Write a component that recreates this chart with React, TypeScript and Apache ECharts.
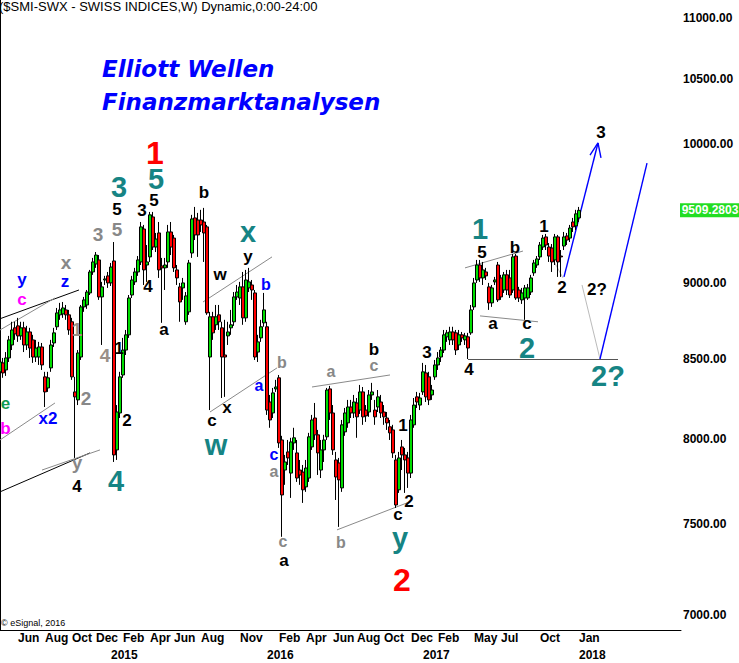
import React, { useEffect, useRef } from 'react';
import * as echarts from 'echarts';

// ---------- data (weekly candles, first week = Mon 21 Apr 2014) ----------
const START_UTC = Date.UTC(2014, 3, 21);
const WEEK_COUNT = 228;

const opens = [
  8415, 8472, 8427, 8504, 8588, 8700, 8713, 8647, 8700, 8588,
  8673, 8621, 8510, 8510, 8575, 8383, 8313, 8440, 8601, 8707,
  8786, 8792, 8819, 8786, 8740, 8288, 8238, 8510, 8839, 8852,
  8933, 9076, 9131, 9159, 8906, 9021, 9049, 9001, 9152, 7932,
  8157, 8395, 8555, 8654, 8919, 9008, 9076, 9145, 9376, 9124,
  9180, 9462, 9249, 9348, 9117, 9104, 9145, 9355, 9312, 9090,
  8974, 8967, 8740, 8806, 9207, 9455, 9440, 9440, 9426, 9391,
  8510, 8773, 8720, 8786, 8700, 8523, 8647, 8700, 8740, 8906,
  8899, 8974, 8766, 8967, 8987, 8933, 8542, 8634, 8733, 8707,
  8225, 8157, 8307, 8377, 7992, 7812, 7920, 7794, 7974, 7914,
  7812, 7800, 7713, 7765, 7950, 8126, 8023, 7812, 7932, 8011,
  8307, 8157, 7872, 7854, 7707, 8041, 8096, 8194, 8157, 8219,
  8175, 8288, 8175, 8163, 8269, 8175, 8194, 8225, 8163, 8126,
  8072, 8053, 7872, 7696, 7950, 7902, 7884, 7794, 8084, 8257,
  8206, 8288, 8408, 8383, 8269, 8383, 8459, 8510, 8555, 8641,
  8621, 8673, 8667, 8588, 8654, 8621, 8641, 8667, 8839, 9021,
  9124, 9035, 9076, 8974, 8866, 9008, 9124, 9035, 8953, 9056,
  9035, 8953, 9186, 8953, 8886, 8899, 8899, 8939, 9070, 9124,
  9180, 9249, 9320, 9249, 9242, 9159, 9320, 9186, 9256, 9327,
  9312, 9426, 9398, 9455,
];
const closes = [
  8478, 8408, 8504, 8621, 8686, 8660, 8647, 8700, 8588, 8673,
  8568, 8510, 8568, 8575, 8459, 8288, 8377, 8588, 8667, 8799,
  8819, 8832, 8786, 8686, 8383, 8257, 8536, 8839, 8886, 8939,
  9076, 9145, 9193, 8906, 8974, 9028, 9001, 9110, 7902, 8163,
  8383, 8555, 8654, 8899, 9021, 9076, 9159, 9391, 9090, 9145,
  9477, 9249, 9305, 9090, 9104, 9124, 9355, 9249, 9104, 9035,
  8872, 9001, 8913, 9138, 9448, 9334, 9334, 9405, 9348, 8799,
  8773, 8667, 8773, 8740, 8510, 8510, 8673, 8720, 8906, 8939,
  8974, 8766, 9021, 9008, 8953, 8510, 8608, 8707, 8819, 8175,
  8114, 8282, 8319, 7974, 7666, 7860, 7884, 7980, 8005, 7765,
  7783, 7696, 7824, 8011, 8114, 8023, 7914, 7932, 7992, 8300,
  8157, 7932, 7771, 7754, 8084, 8157, 8194, 8157, 8225, 8133,
  8288, 8133, 8139, 8269, 8288, 8133, 8257, 8157, 8133, 8096,
  8035, 7914, 7608, 7884, 7902, 7872, 7794, 8114, 8206, 8225,
  8250, 8415, 8257, 8238, 8300, 8459, 8504, 8555, 8654, 8667,
  8673, 8621, 8555, 8654, 8634, 8647, 8568, 8819, 9001, 9124,
  9035, 9090, 9049, 8866, 8967, 9021, 8886, 8906, 9056, 8953,
  8919, 9180, 8899, 8899, 8933, 8967, 8967, 9035, 9138, 9166,
  9263, 9312, 9263, 9186, 9145, 9320, 9145, 9180, 9320, 9298,
  9383, 9391, 9484, 9509.2803,
];
const lows = [
  8364, 8377, 8389, 8478, 8555, 8621, 8608, 8621, 8542, 8555,
  8504, 8472, 8478, 8459, 8427, 8194, 8288, 8415, 8575, 8686,
  8753, 8766, 8753, 8654, 8364, 7884, 8206, 8491, 8806, 8826,
  8919, 9056, 9104, 8886, 8588, 8987, 8967, 8980, 7860, 7872,
  8126, 8377, 8523, 8634, 8899, 8987, 9049, 9124, 8987, 9008,
  9145, 9228, 9214, 9035, 8733, 8953, 9104, 9193, 9076, 8987,
  8740, 8886, 8720, 8786, 9173, 9298, 9180, 9355, 9145, 8786,
  8175, 8621, 8686, 8686, 8250, 8257, 8588, 8654, 8713, 8886,
  8852, 8720, 8740, 8939, 8886, 8491, 8478, 8608, 8707, 8145,
  8066, 8126, 8288, 7944, 7427, 7725, 7842, 7649, 7932, 7742,
  7725, 7620, 7684, 7742, 7932, 7992, 7783, 7765, 7860, 7992,
  8114, 7902, 7637, 7483, 7684, 8017, 8066, 8126, 8126, 8005,
  8151, 8084, 8102, 8133, 8238, 8084, 8163, 8126, 8084, 8053,
  7992, 7884, 7591, 7678, 7812, 7678, 7707, 7765, 8066, 8188,
  8175, 8269, 8225, 8206, 8238, 8364, 8427, 8478, 8536, 8608,
  8588, 8588, 8523, 8555, 8608, 8588, 8497, 8654, 8819, 9001,
  9008, 8987, 9021, 8819, 8839, 8987, 8872, 8886, 8933, 8919,
  8899, 8933, 8886, 8872, 8859, 8753, 8886, 8919, 9049, 9104,
  9159, 9228, 9228, 9145, 9076, 9124, 9042, 9042, 9228, 9263,
  9284, 9355, 9369, 9426,
];
const highs = [
  8523, 8504, 8542, 8647, 8740, 8740, 8766, 8740, 8740, 8713,
  8700, 8654, 8621, 8608, 8601, 8415, 8415, 8621, 8700, 8832,
  8866, 8872, 8852, 8819, 8766, 8383, 8555, 8852, 8906, 8953,
  9090, 9173, 9214, 9193, 9008, 9049, 9076, 9138, 9284, 8206,
  8415, 8634, 8686, 8919, 9049, 9104, 9186, 9426, 9405, 9263,
  9498, 9498, 9348, 9426, 9173, 9173, 9405, 9426, 9334, 9124,
  9001, 9035, 8939, 9159, 9477, 9534, 9491, 9513, 9527, 9405,
  8806, 8806, 8852, 8852, 8740, 8753, 8740, 8819, 8939, 8987,
  9008, 9076, 9090, 9104, 9021, 8953, 8654, 8753, 8933, 8740,
  8269, 8313, 8364, 8395, 8017, 7902, 7992, 8005, 8066, 7992,
  7872, 7842, 7872, 8035, 8145, 8219, 8053, 7992, 8023, 8313,
  8326, 8206, 7920, 7884, 8114, 8188, 8238, 8238, 8269, 8250,
  8332, 8319, 8206, 8300, 8345, 8238, 8300, 8269, 8206, 8163,
  8114, 8084, 7902, 7920, 7992, 7944, 7920, 8145, 8250, 8288,
  8282, 8472, 8459, 8415, 8332, 8491, 8542, 8575, 8686, 8686,
  8707, 8707, 8686, 8686, 8673, 8667, 8667, 8852, 9035, 9159,
  9159, 9145, 9104, 9001, 8987, 9042, 9145, 9056, 9076, 9090,
  9090, 9200, 9200, 8974, 8967, 8987, 8994, 9056, 9159, 9186,
  9284, 9334, 9341, 9277, 9270, 9341, 9334, 9228, 9355, 9348,
  9405, 9455, 9513, 9534,
];

// axis ticks / labels
const priceTicks = [7000, 7500, 8000, 8500, 9000, 10000, 10500, 11000];
const PRICE_MIN = 6921;
const PRICE_MAX = 11151;
const monthTicks = [
  '2014-06', '2014-08', '2014-10', '2014-12', '2015-02', '2015-04', '2015-06', '2015-08',
  '2015-11', '2016-02', '2016-04', '2016-06', '2016-08', '2016-10', '2016-12', '2017-02',
  '2017-05', '2017-07', '2017-10', '2018-01',
];
const yearTicks = ['2015-01', '2016-01', '2017-01', '2018-01'];
const MONTHS = ['Jan', 'Feb', 'Mar', 'Apr', 'May', 'Jun', 'Jul', 'Aug', 'Sep', 'Oct', 'Nov', 'Dec'];

// wave labels: [text, week position, price, style]
const waveLabels: [string, number, number, string][] = [
  ['1', 51.67, 9931, 'red'], ['2', 134, 7188, 'red'],
  ['5', 52, 9735, 'teal'], ['3', 39.67, 9679, 'teal'], ['x', 82.67, 9355, 'teal'],
  ['w', 72, 7962, 'teal'], ['4', 38.67, 7748, 'teal'], ['1', 160, 9376, 'teal'],
  ['2', 175.67, 8570, 'teal'], ['2?', 202.67, 8389, 'teal'], ['y', 133.33, 7420, 'teal'],
  ['5', 39, 9513, 'black'], ['3', 47.33, 9506, 'black'], ['5', 51.33, 9584, 'black'],
  ['b', 68, 9642, 'black'], ['4', 49.33, 8980, 'black'], ['a', 54.67, 8690, 'black'],
  ['w', 73.33, 9059, 'black'], ['y', 82.67, 9186, 'black'], ['1', 39.67, 8568, 'black'],
  ['2', 42.33, 8108, 'black'], ['4', 25.67, 7713, 'black'], ['c', 70.67, 8112, 'black'],
  ['x', 75.67, 8191, 'black'], ['a', 94.67, 7295, 'black'], ['b', 124.67, 8560, 'black'],
  ['3', 142.33, 8542, 'black'], ['1', 134.33, 8078, 'black'], ['2', 136.33, 7631, 'black'],
  ['c', 132.67, 7555, 'black'], ['4', 156.33, 8427, 'black'], ['5', 160.67, 9214, 'black'],
  ['b', 171.67, 9249, 'black'], ['a', 164.33, 8730, 'black'], ['c', 175.67, 8730, 'black'],
  ['1', 181.33, 9391, 'black'], ['2', 187.33, 8967, 'black'], ['2?', 199, 8953, 'black'],
  ['3', 200.33, 10083, 'black'],
  ['3', 32.67, 9334, 'gray'], ['5', 39, 9376, 'gray'], ['x', 22, 9138, 'gray'],
  ['2', 28.67, 8244, 'gray'], ['y', 25.67, 7854, 'gray'],
  ['1', 25.67, 8686, 'tan'], ['4', 35, 8517, 'tan'],
  ['b', 94, 8475, 'graySmall'], ['a', 110.33, 8418, 'graySmall'], ['c', 124.67, 8455, 'graySmall'],
  ['a', 91.33, 7803, 'graySmall'], ['c', 94.33, 7401, 'graySmall'], ['b', 113.67, 7395, 'graySmall'],
  ['y', 7.33, 9025, 'blue'], ['z', 21.67, 9011, 'blue'], ['x2', 16, 8120, 'blue'],
  ['b', 88.67, 8990, 'blueSmall'], ['a', 86.33, 8329, 'blueSmall'], ['c', 91.33, 7905, 'blueSmall'],
  ['c', 7.33, 8889, 'magenta'], ['b', 1.8, 8059, 'magenta'],
  ['e', 1.8, 8213, 'green'],
];

// trend / projection lines: [week1, price1, week2, price2, style]
const trendLines: [number, number, number, number, string][] = [
  [0, 8760, 26.33, 8953, 'black'],
  [0, 8686, 18.33, 8899, 'gray'],
  [0, 7992, 18.33, 8219, 'gray'],
  [0, 7684, 30, 7914, 'black'],
  [14, 7812, 33.33, 7932, 'gray'],
  [67.67, 8872, 90.67, 9180, 'gray'],
  [70, 8163, 92.33, 8440, 'gray'],
  [104, 8319, 130, 8395, 'gray'],
  [112.33, 7466, 135.67, 7620, 'gray'],
  [155, 9104, 174.33, 9221, 'gray'],
  [160, 8779, 179.33, 8740, 'gray'],
  [156, 8497, 206, 8497, 'dark'],
  [184, 9173, 187.67, 9035, 'light'],
  [194, 8987, 200, 8497, 'light'],
  [188, 9042, 199.33, 10007, 'blue'],
  [196.67, 9916, 199.33, 10007, 'blue'],
  [199.33, 10007, 200.33, 9894, 'blue'],
  [200, 8497, 215.67, 9856, 'blue'],
];

// ---------- styles ----------
const FONT = '"Liberation Sans", Arial, sans-serif';
const labelStyles: Record<string, { color: string; size: number }> = {
  red: { color: '#ff0000', size: 32 },
  teal: { color: '#168484', size: 29 },
  black: { color: '#000000', size: 17 },
  gray: { color: '#888888', size: 19 },
  tan: { color: '#9a9088', size: 19 },
  graySmall: { color: '#888888', size: 16 },
  blue: { color: '#0000ff', size: 17 },
  blueSmall: { color: '#0000ff', size: 16 },
  magenta: { color: '#ff00ff', size: 17 },
  green: { color: '#109a50', size: 17 },
};
const lineStyles: Record<string, { color: string; width: number }> = {
  black: { color: '#000000', width: 1 },
  gray: { color: '#8a8a8a', width: 1 },
  dark: { color: '#555555', width: 1 },
  light: { color: '#bbbbbb', width: 1 },
  blue: { color: '#0000ff', width: 1.4 },
};

const LN = Math.log;
const DAY = 86400000;
const weekDates = Array.from({ length: WEEK_COUNT }, (_, i) =>
  new Date(START_UTC + i * 7 * DAY).toISOString().slice(0, 10)
);
const isFirstWeekOf = (v: string, keys: string[]) =>
  Number(v.slice(8, 10)) <= 7 && keys.includes(v.slice(0, 7));

export default function App() {
  const ref = useRef<HTMLDivElement>(null);

  useEffect(() => {
    if (!ref.current) return;
    const chart = echarts.init(ref.current, undefined, { renderer: 'svg' });
    const lastIdx = closes.length - 1;
    const lastClose = closes[lastIdx];

    const axisText = { fontFamily: FONT, fontSize: 12, fontWeight: 'bold' as const, color: '#000' };

    chart.setOption({
      animation: false,
      backgroundColor: '#ffffff',
      grid: { left: 0, top: 0, width: 681, height: 630, containLabel: false, outerBoundsMode: 'none' },
      xAxis: [
        {
          type: 'category',
          data: weekDates,
          boundaryGap: false,
          axisLine: { show: true, lineStyle: { color: '#000', width: 1 } },
          axisTick: { show: false },
          splitLine: { show: false },
          axisLabel: {
            ...axisText,
            hideOverlap: false,
            margin: 2,
            align: 'left',
            interval: (_i: number, v: string) => isFirstWeekOf(v, monthTicks),
            formatter: (v: string) => MONTHS[Number(v.slice(5, 7)) - 1],
          },
        },
        {
          type: 'category',
          data: weekDates,
          boundaryGap: false,
          position: 'bottom',
          offset: 17,
          axisLine: { show: false },
          axisTick: { show: false },
          splitLine: { show: false },
          axisLabel: {
            ...axisText,
            hideOverlap: false,
            margin: 2,
            align: 'left',
            interval: (_i: number, v: string) => isFirstWeekOf(v, yearTicks),
            formatter: (v: string) => v.slice(0, 4),
          },
        },
        { type: 'value', min: 0, max: WEEK_COUNT - 1, show: false },
      ],
      yAxis: [
        {
          type: 'value',
          position: 'right',
          min: LN(PRICE_MIN),
          max: LN(PRICE_MAX),
          axisLine: { show: true, lineStyle: { color: '#000', width: 1 } },
          axisTick: { show: false },
          splitLine: { show: false },
          axisLabel: {
            ...axisText,
            margin: 2,
            customValues: priceTicks.map(LN),
            formatter: (v: number) => Math.exp(v).toFixed(2),
          },
        },
      ],
      series: [
        {
          type: 'candlestick',
          xAxisIndex: 0,
          yAxisIndex: 0,
          barWidth: 3,
          silent: true,
          data: opens.map((o, i) => [LN(o), LN(closes[i]), LN(lows[i]), LN(highs[i])]),
          itemStyle: {
            color: '#00dd00',
            color0: '#ff0000',
            borderColor: '#000',
            borderColor0: '#000',
            borderWidth: 1,
            opacity: 1,
          },
          markPoint: {
            silent: true,
            symbol: 'rect',
            symbolSize: [60, 14],
            data: [
              {
                coord: [weekDates[lastIdx], LN(lastClose)],
                symbolOffset: [131, 0],
                itemStyle: { color: '#22dd22', opacity: 1 },
                label: {
                  show: true,
                  position: 'inside',
                  formatter: lastClose.toFixed(4),
                  ...axisText,
                  color: '#ffffff',
                },
              },
            ],
          },
        },
        {
          type: 'lines',
          coordinateSystem: 'cartesian2d',
          xAxisIndex: 2,
          yAxisIndex: 0,
          silent: true,
          data: trendLines.map(([w1, p1, w2, p2, s]) => ({
            coords: [[w1, LN(p1)], [w2, LN(p2)]],
            lineStyle: { color: lineStyles[s].color, width: lineStyles[s].width, opacity: 1, curveness: 0 },
          })),
        },
        {
          type: 'scatter',
          xAxisIndex: 2,
          yAxisIndex: 0,
          symbolSize: 0,
          clip: false,
          silent: true,
          itemStyle: { opacity: 1 },
          data: waveLabels.map(([t, w, p, s]) => ({
            value: [w, LN(p)],
            itemStyle: { opacity: 1 },
            label: {
              show: true,
              position: 'inside',
              formatter: t,
              opacity: 1,
              fontFamily: FONT,
              fontWeight: 'bold',
              fontSize: labelStyles[s].size,
              lineHeight: Math.round(labelStyles[s].size * 0.8),
              color: labelStyles[s].color,
            },
          })),
        },
      ],
      graphic: [
        {
          type: 'text',
          x: -1,
          y: 0,
          style: {
            text: '($SMI-SWX - SWISS INDICES,W) Dynamic,0:00-24:00',
            font: `13px ${FONT}`,
            fill: '#000',
            textVerticalAlign: 'top',
          },
        },
        {
          type: 'text',
          x: 102,
          y: 69,
          style: {
            text: 'Elliott Wellen',
            font: 'italic bold 23px "DejaVu Sans", sans-serif',
            fill: '#0000ff',
            textVerticalAlign: 'middle',
          },
        },
        {
          type: 'text',
          x: 102,
          y: 102,
          style: {
            text: 'Finanzmarktanalysen',
            font: 'italic bold 23px "DejaVu Sans", sans-serif',
            fill: '#0000ff',
            textVerticalAlign: 'middle',
          },
        },
        {
          type: 'text',
          x: 1,
          y: 623,
          style: {
            text: '© eSignal, 2016',
            font: `9px ${FONT}`,
            fill: '#000',
            textVerticalAlign: 'middle',
          },
        },
      ],
    });

    return () => chart.dispose();
  }, []);

  return (
    <div
      ref={ref}
      style={{ position: 'absolute', left: 0, top: 0, width: 739, height: 663, background: '#fff' }}
    />
  );
}
